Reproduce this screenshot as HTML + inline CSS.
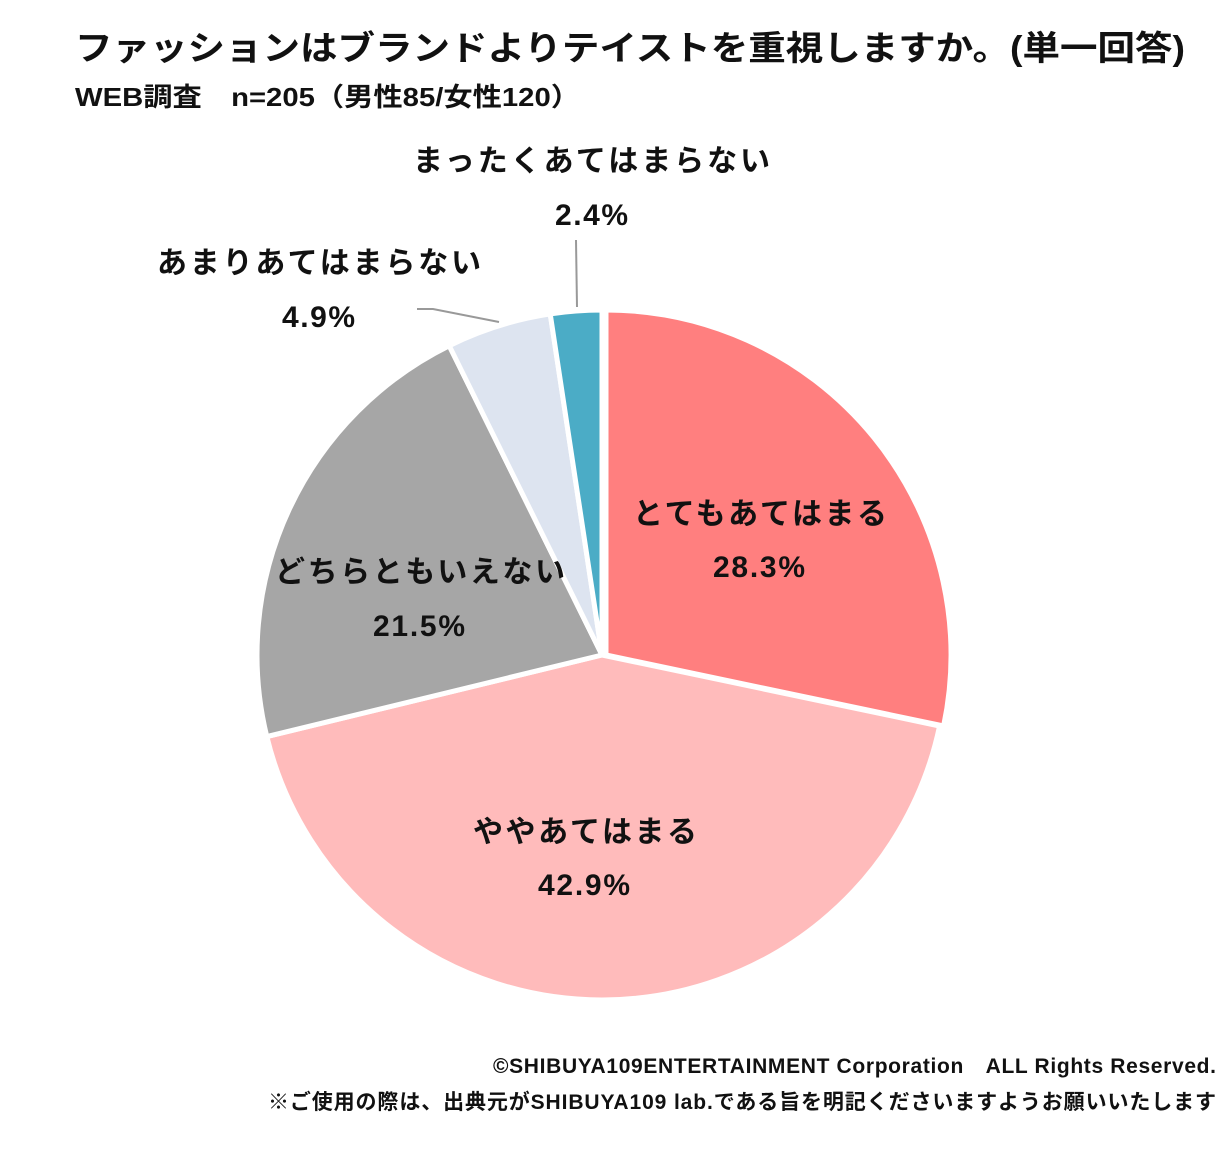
<!DOCTYPE html>
<html><head><meta charset="utf-8"><style>
body{margin:0;background:#fff;}
svg{display:block;font-family:"Liberation Sans","Noto Sans CJK JP",sans-serif;font-weight:bold;}
</style></head><body>
<svg width="1229" height="1151" viewBox="0 0 1229 1151">
<text x="75" y="60" font-size="34" fill="#111" textLength="1110" lengthAdjust="spacingAndGlyphs">ファッションはブランドよりテイストを重視しますか。(単一回答)</text>
<text x="75" y="106" font-size="26" fill="#111" textLength="505" lengthAdjust="spacingAndGlyphs">WEB調査　n=205（男性85/女性120）</text>
<g stroke="#fff" stroke-width="5" stroke-linejoin="miter">
<path d="M606,655 L606,310 A345,345 0 0 1 943.6,726 Z" fill="#FF7F7F"/>
<path d="M602,655 L939.6,726 A345,345 0 0 1 266.8,736.6 Z" fill="#FFBBBB"/>
<path d="M602,655 L266.8,736.6 A345,345 0 0 1 449.2,345.7 Z" fill="#A6A6A6"/>
<path d="M602,655 L449.2,345.7 A345,345 0 0 1 550.2,313.9 Z" fill="#DDE4F0"/>
<path d="M602,655 L550.2,313.9 A345,345 0 0 1 602,310 Z" fill="#4BACC6"/>
</g>
<g stroke="#999" stroke-width="2" fill="none">
<polyline points="417,309 433,309 499,322"/>
<polyline points="576,240 577,307"/>
</g>
<g font-size="30" fill="#111" lengthAdjust="spacingAndGlyphs">
<text x="633" y="524" textLength="254">とてもあてはまる</text>
<text x="713" y="577" textLength="92">28.3%</text>
<text x="473" y="842" textLength="224">ややあてはまる</text>
<text x="538" y="895" textLength="92">42.9%</text>
<text x="275" y="582" textLength="290">どちらともいえない</text>
<text x="373" y="636" textLength="92">21.5%</text>
<text x="157" y="273" textLength="324">あまりあてはまらない</text>
<text x="282" y="327" textLength="73">4.9%</text>
<text x="413" y="171" textLength="357">まったくあてはまらない</text>
<text x="555" y="225" textLength="73">2.4%</text>
</g>
<g font-size="21" fill="#111" lengthAdjust="spacingAndGlyphs">
<text x="493" y="1073" textLength="723">©SHIBUYA109ENTERTAINMENT Corporation　ALL Rights Reserved.</text>
<text x="268" y="1109" textLength="948">※ご使用の際は、出典元がSHIBUYA109 lab.である旨を明記くださいますようお願いいたします</text>
</g>
</svg>
</body></html>
